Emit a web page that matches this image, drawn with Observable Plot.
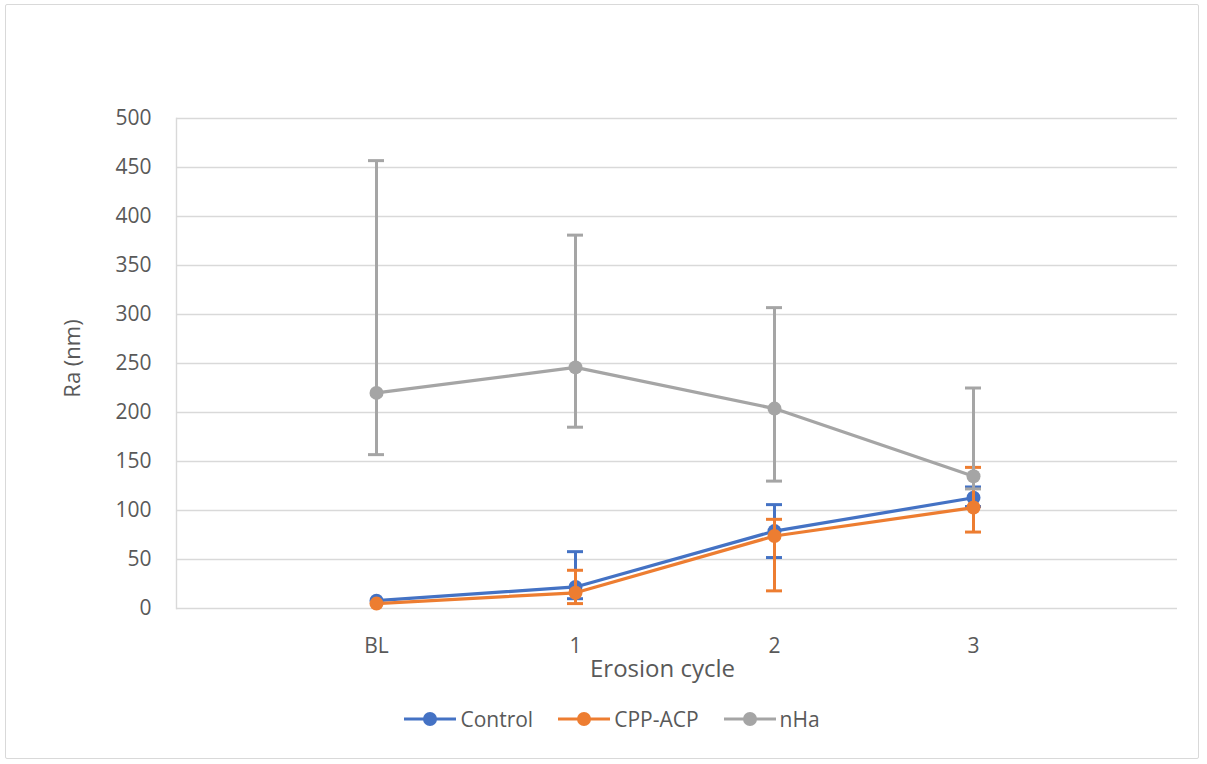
<!DOCTYPE html>
<html>
<head>
<meta charset="utf-8">
<script src="https://cdn.jsdelivr.net/npm/d3@7"></script>
<script src="https://cdn.jsdelivr.net/npm/@observablehq/plot@0.6"></script>
<style>
  html, body { margin: 0; padding: 0; background: #fff; }
  #frame { position: absolute; left: 5px; top: 4px; width: 1194px; height: 755px; border: 1px solid #d9d9d9; border-radius: 2px; box-sizing: border-box; }
  #chart { position: absolute; left: 0; top: 0; }
  #legend { position: absolute; top: 705px; left: 0; width: 1223px; display: flex; justify-content: center; gap: 0; font-family: "Open Sans", Lato, sans-serif; font-size: 21px; color: #595959; }
  .item { display: flex; align-items: center; margin: 0 12px; }
  .item svg { margin-right: 3px; }
</style>
</head>
<body>
<div id="frame"></div>
<div id="chart"></div>
<div id="legend"></div>
<script>
const categories = ["BL", "1", "2", "3"];
const seriesNames = ["Control", "CPP-ACP", "nHa"];
const colors = ["#4472C4", "#ED7D31", "#A5A5A5"];

const controlMean = [8, 22, 79, 113];
const controlHigh = [8, 58, 106, 124];
const controlLow  = [8, 10, 52, 104];

const cppMean = [5, 16, 74, 103];
const cppHigh = [5, 39, 91, 144];
const cppLow  = [5, 5, 18, 78];

const nhaMean = [220, 246, 204, 135];
const nhaHigh = [457, 381, 307, 225];
const nhaLow  = [157, 185, 130, 122];

const yTicks = [0, 50, 100, 150, 200, 250, 300, 350, 400, 450, 500];

const means = [controlMean, cppMean, nhaMean];
const highs = [controlHigh, cppHigh, nhaHigh];
const lows = [controlLow, cppLow, nhaLow];

function rows(s) {
  return categories.map((c, i) => ({cat: c, series: seriesNames[s], v: means[s][i], hi: highs[s][i], lo: lows[s][i]}));
}

const marks = [
  Plot.gridY(yTicks, {stroke: "#d9d9d9", strokeOpacity: 1, strokeWidth: 1.4, insetRight: -5}),
  Plot.frame({anchor: "left", stroke: "#d9d9d9", strokeWidth: 1.4}),
  Plot.axisY(yTicks, {tickSize: 0, tickPadding: 25, fontSize: 21, fill: "#595959", label: null}),
  Plot.axisX({tickSize: 0, tickPadding: 30, fontSize: 21, fill: "#595959", label: null}),
  Plot.text(["Erosion cycle"], {frameAnchor: "bottom", dx: -12, dy: 68, fontSize: 24, fill: "#595959"}),
  Plot.text(["Ra (nm)"], {frameAnchor: "left", dx: -104, dy: -5, rotate: -90, textAnchor: "middle", fontSize: 22, fill: "#595959"})
];

for (let s = 0; s < 3; s++) {
  const d = rows(s);
  const c = colors[s];
  const eb = d.filter(r => r.hi !== r.lo);
  marks.push(
    Plot.ruleX(eb, {x: "cat", y1: "lo", y2: "hi", stroke: c, strokeWidth: 3}),
    Plot.tickY(eb, {x: "cat", y: "hi", stroke: c, strokeWidth: 3}),
    Plot.tickY(eb, {x: "cat", y: "lo", stroke: c, strokeWidth: 3}),
    Plot.line(d, {x: "cat", y: "v", stroke: c, strokeWidth: 3.2}),
    Plot.dot(d, {x: "cat", y: "v", fill: c, r: 7})
  );
}

const chart = Plot.plot({
  width: 1207,
  height: 700,
  marginLeft: 176,
  marginRight: 35,
  marginTop: 118,
  marginBottom: 92,
  style: {background: "transparent", fontFamily: "'Open Sans', Lato, sans-serif"},
  x: {type: "band", domain: categories, paddingInner: 0.92, paddingOuter: 0.96},
  y: {domain: [0, 500]},
  marks
});
document.getElementById("chart").appendChild(chart);

const legend = document.getElementById("legend");
seriesNames.forEach((name, i) => {
  const item = document.createElement("div");
  item.className = "item";
  item.innerHTML = `<svg width="54" height="16"><line x1="1" x2="53" y1="8" y2="8" stroke="${colors[i]}" stroke-width="3.2"/><circle cx="27" cy="8" r="7" fill="${colors[i]}"/></svg><span>${name}</span>`;
  legend.appendChild(item);
});
</script>
</body>
</html>
